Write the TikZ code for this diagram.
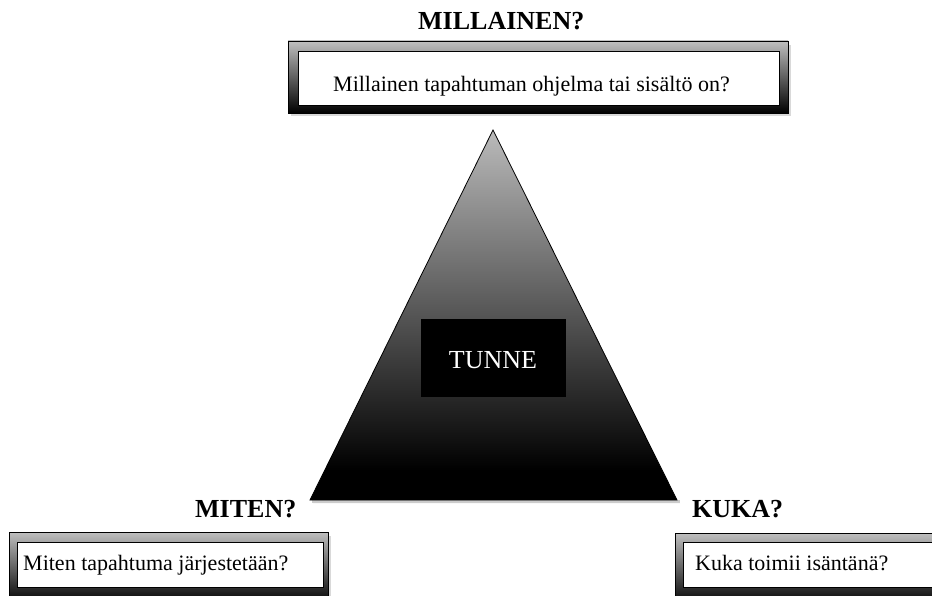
\documentclass[tikz,border=0pt]{standalone}
\usepackage{fontspec}
\setmainfont{Liberation Serif}
\usetikzlibrary{shadings}
\pgfdeclareverticalshading{pyramid}{100bp}{color(0bp)=(black); color(25bp)=(black); color(29bp)=(black); color(75bp)=(black!27); color(100bp)=(black!27)}
\begin{document}
\begin{tikzpicture}[x=1pt,y=-1pt,
  frame/.style={draw=black, line width=0.8pt, top color=black!25, bottom color=black, inner sep=0pt},
  panel/.style={draw=black, line width=0.8pt, fill=white, inner sep=0pt},
  heading/.style={font=\fontsize{26}{30}\selectfont\bfseries, anchor=base west, inner sep=0pt},
  question/.style={font=\fontsize{22}{26}\selectfont, anchor=base west, inner sep=0pt},
  shadowc/.style={fill=black!18}]
\useasboundingbox (0,0) rectangle (932,596);
\clip (0,0) rectangle (932,596);
\fill[white] (0,0) rectangle (932,596);

% triangle
\coordinate (apex) at (493,130);
\coordinate (bl) at (310,500);
\coordinate (br) at (677,500);
\fill[shadowc] ([xshift=3pt,yshift=-3pt]bl) -- ([xshift=3pt,yshift=-3pt]br) -- ([yshift=-3pt]br) -- cycle;
\fill[black!20] (312,500) rectangle (680,503);
\shade[shading=pyramid, draw=black, line width=0.8pt] (apex) -- (br) -- (bl) -- cycle;

% center box
\node[fill=black, minimum width=145pt, minimum height=78pt, inner sep=0pt] (tunne) at (493.5,358) {};
\node[font=\fontsize{26}{30}\selectfont, text=white, anchor=base, inner sep=0pt] (tunnetext) at (493,368) {TUNNE};

% top box
\fill[black!15] (291,45) rectangle (791,116);
\node[frame, minimum width=500pt, minimum height=72pt] (topframe) at (538,77) {};
\node[panel, minimum width=481pt, minimum height=54pt] (toppanel) at (538.5,78) {};
\node[heading] (millainen) at (418,30) {MILLAINEN?};
\node[question] (topq) at (333,92) {Millainen tapahtuman ohjelma tai sisältö on?};

% bottom left box
\fill[black!15] (12,536) rectangle (331,610);
\node[frame, minimum width=319pt, minimum height=72pt] (leftframe) at (168.5,568) {};
\node[panel, minimum width=306pt, minimum height=45pt] (leftpanel) at (170,564.5) {};
\node[heading] (miten) at (195,517) {MITEN?};
\node[question] (leftq) at (23,570) {Miten tapahtuma järjestetään?};

% bottom right box
\node[frame, minimum width=300pt, minimum height=72pt] (rightframe) at (825,569) {};
\node[panel, minimum width=290pt, minimum height=45pt] (rightpanel) at (828,564.5) {};
\node[heading] (kuka) at (692,517) {KUKA?};
\node[question] (rightq) at (695,570) {Kuka toimii isäntänä?};
\end{tikzpicture}
\end{document}
